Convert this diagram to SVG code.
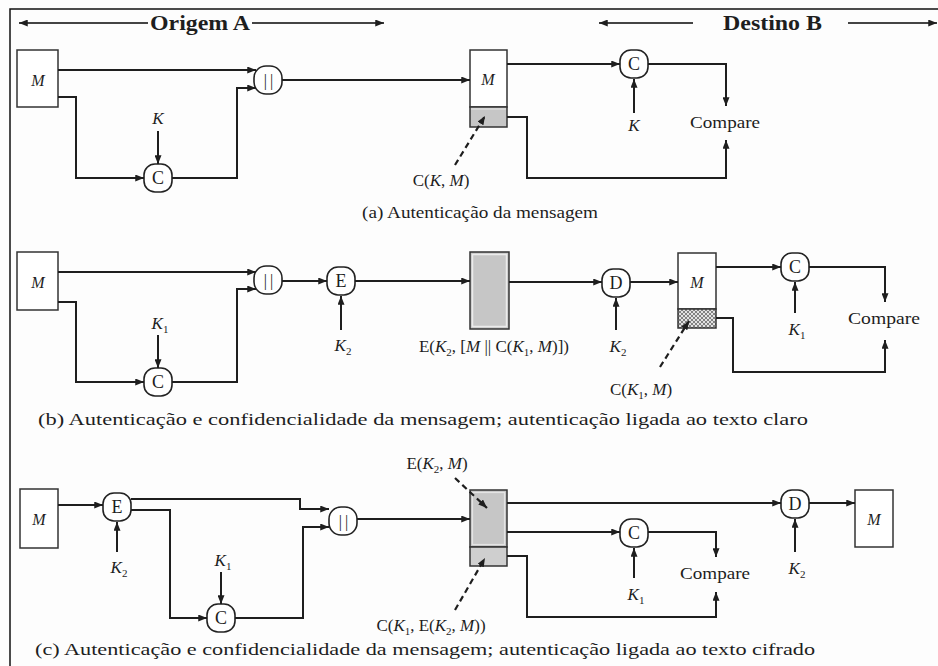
<svg xmlns="http://www.w3.org/2000/svg" width="938" height="666" viewBox="0 0 938 666">
<defs>
<style>
.t{font-family:"Liberation Serif","Times New Roman",Tinos,serif;fill:#1e1e1e}
.it{font-style:italic}
.mid{text-anchor:middle}
.nd{fill:#fff;stroke:#222;stroke-width:1.6}
.bx{fill:#fff;stroke:#333;stroke-width:1.5}
.gr{fill:#c6c6c6;stroke:#333;stroke-width:1.5}
.gr2{fill:#cfcfcf;stroke:#333;stroke-width:1.5}
.hc{fill:url(#hatch);stroke:#333;stroke-width:1.5}
.ln{fill:none;stroke:#1e1e1e;stroke-width:2;marker-end:url(#ah)}
.ds{fill:none;stroke:#1e1e1e;stroke-width:2.2;stroke-dasharray:6 4;marker-end:url(#ah)}
.hd{fill:none;stroke:#444;stroke-width:2;marker-end:url(#ah)}
.nl{font-size:18px;text-anchor:middle}
.cc{font-size:16px;text-anchor:middle;letter-spacing:3px}
.kl{font-size:17px;text-anchor:middle}
.sub{font-size:11px;font-style:normal}
.cap{font-size:17px}
</style>
<marker id="ah" viewBox="0 0 10 8" refX="10" refY="4" markerWidth="9" markerHeight="7" markerUnits="userSpaceOnUse" orient="auto">
<path d="M0,0 L10,4 L0,8 z" fill="#1e1e1e"/>
</marker>
<pattern id="hatch" width="4" height="4" patternUnits="userSpaceOnUse">
<rect width="4" height="4" fill="#e2e2e2"/>
<path d="M0,0 L4,4 M4,0 L0,4" stroke="#6a6a6a" stroke-width="0.8"/>
</pattern>
</defs>
<rect x="0" y="0" width="938" height="666" fill="#fdfdfd"/>
<path d="M10,666 L10,9 L938,9" fill="none" stroke="#111" stroke-width="1.5"/>

<g id="header">
<line class="hd" x1="148" y1="23" x2="19" y2="23"/>
<line class="hd" x1="252" y1="23" x2="384" y2="23"/>
<text class="t" x="150" y="30" font-size="21" font-weight="bold" textLength="100" lengthAdjust="spacingAndGlyphs">Origem A</text>
<line class="hd" x1="693" y1="23" x2="599" y2="23"/>
<line class="hd" x1="848" y1="23" x2="937" y2="23"/>
<text class="t" x="723" y="30" font-size="21" font-weight="bold" textLength="99" lengthAdjust="spacingAndGlyphs">Destino B</text>
</g>

<!-- (a) nodes -->
<g id="a_M">
<rect class="bx" x="17" y="50" width="41" height="57"/>
<text class="t it" x="38" y="86" font-size="16" text-anchor="middle">M</text>
</g>
<g id="a_concat">
<rect class="nd" x="254" y="66" width="28" height="28" rx="12"/>
<text class="t cc" x="270" y="86">||</text>
</g>
<g id="a_C1">
<rect class="nd" x="144" y="164" width="28" height="28" rx="11"/>
<text class="t nl" x="158" y="184">C</text>
</g>
<g id="a_K1"><text class="t kl it" x="158" y="124">K</text></g>
<g id="a_msg">
<rect class="bx" x="470" y="50" width="37" height="57"/>
<rect class="gr" x="470" y="107" width="37" height="20"/>
<line x1="471" y1="109" x2="506" y2="109" stroke="#e6e6e6" stroke-width="1.2"/>
<text class="t it" x="488" y="85" font-size="16" text-anchor="middle">M</text>
</g>
<g id="a_C2">
<rect class="nd" x="620" y="50" width="28" height="28" rx="11"/>
<text class="t nl" x="634" y="70">C</text>
</g>
<g id="a_K2"><text class="t kl it" x="634" y="131">K</text></g>
<g id="a_compare"><text class="t" x="690" y="128" font-size="17" textLength="70" lengthAdjust="spacingAndGlyphs">Compare</text></g>
<g id="a_label"><text class="t mid" x="441" y="186" font-size="17">C(<tspan class="it">K</tspan>, <tspan class="it">M</tspan>)</text></g>
<g id="a_caption"><text class="t cap" x="362" y="218" textLength="236" lengthAdjust="spacingAndGlyphs">(a) Autenticação da mensagem</text></g>

<!-- (b) nodes -->
<g id="b_M">
<rect class="bx" x="17" y="252" width="41" height="58"/>
<text class="t it" x="38" y="288" font-size="16" text-anchor="middle">M</text>
</g>
<g id="b_concat">
<rect class="nd" x="254" y="266" width="28" height="28" rx="12"/>
<text class="t cc" x="270" y="286">||</text>
</g>
<g id="b_C1">
<rect class="nd" x="144" y="368" width="28" height="28" rx="11"/>
<text class="t nl" x="158" y="388">C</text>
</g>
<g id="b_K1"><text class="t kl" x="160" y="329"><tspan class="it">K</tspan><tspan class="sub" dy="4">1</tspan></text></g>
<g id="b_E">
<rect class="nd" x="327" y="267" width="28" height="28" rx="11"/>
<text class="t nl" x="341" y="287">E</text>
</g>
<g id="b_K2a"><text class="t kl" x="343" y="351"><tspan class="it">K</tspan><tspan class="sub" dy="4">2</tspan></text></g>
<g id="b_cipher">
<rect class="gr" x="470" y="252" width="39" height="77"/>
<rect x="472.5" y="254.5" width="34" height="72" fill="none" stroke="#ebebeb" stroke-width="1.5"/>
</g>
<g id="b_cipher_label"><text class="t mid" x="494" y="352" font-size="17">E(<tspan class="it">K</tspan><tspan class="sub" dy="4">2</tspan><tspan dy="-4">, [</tspan><tspan class="it">M</tspan> || C(<tspan class="it">K</tspan><tspan class="sub" dy="4">1</tspan><tspan dy="-4">, </tspan><tspan class="it">M</tspan>)])</text></g>
<g id="b_D">
<rect class="nd" x="602" y="269" width="28" height="28" rx="11"/>
<text class="t nl" x="616" y="289">D</text>
</g>
<g id="b_K2b"><text class="t kl" x="618" y="352"><tspan class="it">K</tspan><tspan class="sub" dy="4">2</tspan></text></g>
<g id="b_msg">
<rect class="bx" x="678" y="253" width="38" height="56"/>
<rect class="hc" x="678" y="309" width="38" height="19"/>
<text class="t it" x="697" y="288" font-size="16" text-anchor="middle">M</text>
</g>
<g id="b_C2">
<rect class="nd" x="781" y="253" width="28" height="28" rx="11"/>
<text class="t nl" x="795" y="273">C</text>
</g>
<g id="b_K1b"><text class="t kl" x="797" y="335"><tspan class="it">K</tspan><tspan class="sub" dy="4">1</tspan></text></g>
<g id="b_compare"><text class="t" x="848" y="324" font-size="17" textLength="72" lengthAdjust="spacingAndGlyphs">Compare</text></g>
<g id="b_label"><text class="t mid" x="641" y="395" font-size="17">C(<tspan class="it">K</tspan><tspan class="sub" dy="4">1</tspan><tspan dy="-4">, </tspan><tspan class="it">M</tspan>)</text></g>
<g id="b_caption"><text class="t cap" x="38" y="425" textLength="770" lengthAdjust="spacingAndGlyphs">(b) Autenticação e confidencialidade da mensagem; autenticação ligada ao texto claro</text></g>

<!-- (c) nodes -->
<g id="c_M">
<rect class="bx" x="20" y="489" width="38" height="59"/>
<text class="t it" x="39" y="525" font-size="16" text-anchor="middle">M</text>
</g>
<g id="c_E">
<rect class="nd" x="103" y="493" width="28" height="28" rx="11"/>
<text class="t nl" x="117" y="513">E</text>
</g>
<g id="c_K2a"><text class="t kl" x="119" y="573"><tspan class="it">K</tspan><tspan class="sub" dy="4">2</tspan></text></g>
<g id="c_C1">
<rect class="nd" x="207" y="604" width="28" height="28" rx="11"/>
<text class="t nl" x="221" y="624">C</text>
</g>
<g id="c_K1a"><text class="t kl" x="223" y="566"><tspan class="it">K</tspan><tspan class="sub" dy="4">1</tspan></text></g>
<g id="c_concat">
<rect class="nd" x="329" y="507" width="28" height="28" rx="12"/>
<text class="t cc" x="345" y="527">||</text>
</g>
<g id="c_msg">
<rect class="gr" x="470" y="490" width="37" height="57"/>
<rect x="472.5" y="492.5" width="32" height="52" fill="none" stroke="#e4e4e4" stroke-width="1.2"/>
<rect class="gr2" x="470" y="547" width="37" height="19"/>
</g>
<g id="c_label_top"><text class="t mid" x="437" y="469" font-size="17">E(<tspan class="it">K</tspan><tspan class="sub" dy="4">2</tspan><tspan dy="-4">, </tspan><tspan class="it">M</tspan>)</text></g>
<g id="c_label_bot"><text class="t mid" x="431" y="631" font-size="17">C(<tspan class="it">K</tspan><tspan class="sub" dy="4">1</tspan><tspan dy="-4">, E(</tspan><tspan class="it">K</tspan><tspan class="sub" dy="4">2</tspan><tspan dy="-4">, </tspan><tspan class="it">M</tspan>))</text></g>
<g id="c_C2">
<rect class="nd" x="620" y="519" width="28" height="28" rx="11"/>
<text class="t nl" x="634" y="539">C</text>
</g>
<g id="c_K1b"><text class="t kl" x="636" y="600"><tspan class="it">K</tspan><tspan class="sub" dy="4">1</tspan></text></g>
<g id="c_compare"><text class="t" x="680" y="579" font-size="17" textLength="70" lengthAdjust="spacingAndGlyphs">Compare</text></g>
<g id="c_D">
<rect class="nd" x="781" y="490" width="28" height="28" rx="11"/>
<text class="t nl" x="795" y="510">D</text>
</g>
<g id="c_K2b"><text class="t kl" x="797" y="574"><tspan class="it">K</tspan><tspan class="sub" dy="4">2</tspan></text></g>
<g id="c_out">
<rect class="bx" x="855" y="490" width="38" height="57"/>
<text class="t it" x="874" y="525" font-size="16" text-anchor="middle">M</text>
</g>
<g id="c_caption"><text class="t cap" x="35" y="655" textLength="780" lengthAdjust="spacingAndGlyphs">(c) Autenticação e confidencialidade da mensagem; autenticação ligada ao texto cifrado</text></g>

<g id="connectors">
<!-- (a) -->
<polyline class="ln" points="58,70 256,70"/>
<polyline class="ln" points="58,97 76,97 76,178 144,178"/>
<polyline class="ln" points="172,178 237,178 237,88 256,88"/>
<polyline class="ln" points="282,80 470,80"/>
<polyline class="ln" points="158,131 158,164"/>
<polyline class="ln" points="507,64 620,64"/>
<polyline class="ln" points="648,64 726,64 726,106"/>
<polyline class="ln" points="634,113 634,79"/>
<polyline class="ln" points="507,117 527,117 527,178 726,178 726,140"/>
<line class="ds" x1="455" y1="165" x2="485" y2="116"/>
<!-- (b) -->
<polyline class="ln" points="58,272 256,272"/>
<polyline class="ln" points="58,302 76,302 76,382 144,382"/>
<polyline class="ln" points="172,382 237,382 237,289 256,289"/>
<polyline class="ln" points="282,281 327,281"/>
<polyline class="ln" points="158,335 158,368"/>
<polyline class="ln" points="341,330 341,296"/>
<polyline class="ln" points="355,281 470,281"/>
<polyline class="ln" points="509,282 602,282"/>
<polyline class="ln" points="616,330 616,298"/>
<polyline class="ln" points="630,282 678,282"/>
<polyline class="ln" points="716,267 781,267"/>
<polyline class="ln" points="795,313 795,282"/>
<polyline class="ln" points="809,267 885,267 885,302"/>
<polyline class="ln" points="716,318 733,318 733,372 885,372 885,340"/>
<line class="ds" x1="660" y1="367" x2="689" y2="321"/>
<!-- (c) -->
<polyline class="ln" points="58,505 103,505"/>
<polyline class="ln" points="117,552 117,522"/>
<polyline class="ln" points="131,499 300,499 300,509 329,509"/>
<polyline class="ln" points="131,510 170,510 170,618 207,618"/>
<polyline class="ln" points="221,572 221,604"/>
<polyline class="ln" points="235,618 303,618 303,527 329,527"/>
<polyline class="ln" points="357,519 470,519"/>
<polyline class="ln" points="507,503 781,503"/>
<polyline class="ln" points="809,503 855,503"/>
<polyline class="ln" points="795,552 795,519"/>
<polyline class="ln" points="507,532 620,532"/>
<polyline class="ln" points="634,578 634,548"/>
<polyline class="ln" points="648,532 716,532 716,557"/>
<polyline class="ln" points="507,556 527,556 527,617 716,617 716,592"/>
<line class="ds" x1="455" y1="478" x2="487" y2="508"/>
<line class="ds" x1="455" y1="610" x2="485" y2="558"/>
</g>
</svg>
